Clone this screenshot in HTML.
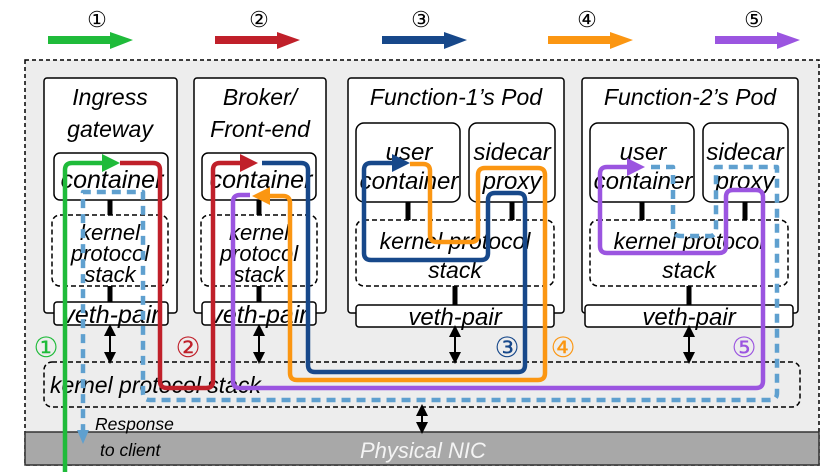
<!DOCTYPE html>
<html><head><meta charset="utf-8"><style>
html,body{margin:0;padding:0;background:#fff;}
svg{display:block;}
text{font-family:"Liberation Sans",sans-serif;font-style:italic;}
</style></head><body>
<svg width="832" height="476" viewBox="0 0 832 476" xmlns="http://www.w3.org/2000/svg">
<defs>
<marker id="mb" markerWidth="6" markerHeight="6" refX="3" refY="3" orient="auto"><path d="M0,0 L6,3 L0,6z" fill="#000"/></marker>
<marker id="mbs" markerWidth="6" markerHeight="6" refX="3" refY="3" orient="auto-start-reverse"><path d="M0,0 L6,3 L0,6z" fill="#000"/></marker>
</defs>
<g font-size="22" text-anchor="middle">
<text x="97" y="27" style="font-style:normal">①</text>
<text x="259" y="27" style="font-style:normal">②</text>
<text x="421" y="27" style="font-style:normal">③</text>
<text x="587" y="27" style="font-style:normal">④</text>
<text x="754" y="27" style="font-style:normal">⑤</text>
</g>
<g>
<path d="M48,36 H110 V32 L133,40 L110,49 V44 H48z" fill="#1fbb3a"/>
<path d="M215,36 H277 V32 L300,40 L277,49 V44 H215z" fill="#c0202a"/>
<path d="M382,36 H444 V32 L467,40 L444,49 V44 H382z" fill="#17488a"/>
<path d="M548,36 H610 V32 L633,40 L610,49 V44 H548z" fill="#fb9612"/>
<path d="M715,36 H777 V32 L800,40 L777,49 V44 H715z" fill="#9b55e0"/>
</g>
<rect x="25" y="60" width="794" height="405" fill="#ededed" stroke="#000" stroke-width="1.5" stroke-dasharray="4,3"/>
<rect x="25" y="432" width="794" height="33" fill="#a8a8a8" stroke="#333" stroke-width="1.5"/>
<text x="360" y="458" font-size="22" fill="#f4f4f4">Physical NIC</text>
<rect x="44" y="362" width="756" height="45" rx="8" fill="none" stroke="#000" stroke-width="1.5" stroke-dasharray="5,3"/>
<text x="50" y="393" font-size="23">kernel protocol stack</text>
<line x1="422" y1="410" x2="422" y2="428" stroke="#000" stroke-width="2" marker-start="url(#mbs)" marker-end="url(#mb)"/>
<g stroke="#000" stroke-width="1.5" fill="#fff">
<rect x="44" y="78" width="133" height="235" rx="3"/>
<rect x="194" y="78" width="132" height="235" rx="3"/>
<rect x="348" y="78" width="216" height="235" rx="3"/>
<rect x="582" y="78" width="216" height="235" rx="3"/>
<rect x="54" y="153" width="114" height="47" rx="6"/>
<rect x="202" y="153" width="114" height="47" rx="6"/>
<rect x="356" y="123" width="104" height="79" rx="8"/>
<rect x="469" y="123" width="86" height="79" rx="8"/>
<rect x="590" y="123" width="104" height="79" rx="8"/>
<rect x="703" y="123" width="85" height="79" rx="8"/>
</g>
<g stroke="#000" stroke-width="1.5" fill="none" stroke-dasharray="5,3">
<rect x="52" y="215" width="116" height="71" rx="8"/>
<rect x="201" y="215" width="116" height="71" rx="8"/>
<rect x="356" y="220" width="198" height="66" rx="8"/>
<rect x="590" y="220" width="198" height="66" rx="8"/>
</g>
<g stroke="#000" stroke-width="1.5" fill="#fff">
<rect x="54" y="302" width="114" height="23" rx="3"/>
<rect x="202" y="302" width="114" height="23" rx="3"/>
<rect x="356" y="305" width="198" height="22" rx="3"/>
<rect x="585" y="305" width="208" height="22" rx="3"/>
</g>
<g stroke="#000" stroke-width="5">
<line x1="110" y1="200" x2="110" y2="215"/><line x1="110" y1="286" x2="110" y2="302"/>
<line x1="259" y1="200" x2="259" y2="215"/><line x1="259" y1="286" x2="259" y2="302"/>
<line x1="408" y1="202" x2="408" y2="220"/><line x1="512" y1="202" x2="512" y2="220"/><line x1="455" y1="286" x2="455" y2="305"/>
<line x1="642" y1="202" x2="642" y2="220"/><line x1="745" y1="202" x2="745" y2="220"/><line x1="689" y1="286" x2="689" y2="305"/>
</g>
<g stroke="#000" stroke-width="2">
<line x1="110" y1="330" x2="110" y2="358" marker-start="url(#mbs)" marker-end="url(#mb)"/>
<line x1="259" y1="330" x2="259" y2="358" marker-start="url(#mbs)" marker-end="url(#mb)"/>
<line x1="455" y1="331" x2="455" y2="358" marker-start="url(#mbs)" marker-end="url(#mb)"/>
<line x1="689" y1="331" x2="689" y2="358" marker-start="url(#mbs)" marker-end="url(#mb)"/>
</g>
<g font-size="23" text-anchor="middle">
<text x="110" y="105">Ingress</text><text x="110" y="137">gateway</text>
<text x="260" y="105">Broker/</text><text x="260" y="137">Front-end</text>
<text x="456" y="105">Function-1’s Pod</text>
<text x="690" y="105">Function-2’s Pod</text>
</g>
<g text-anchor="middle">
<g font-size="25"><text x="112" y="188">container</text><text x="261" y="188">container</text></g>
<g font-size="24">
<text x="409" y="160">user</text><text x="409" y="189">container</text>
<text x="512" y="160">sidecar</text><text x="512" y="189">proxy</text>
<text x="643" y="160">user</text><text x="643" y="189">container</text>
<text x="745" y="160">sidecar</text><text x="745" y="189">proxy</text>
</g>
<g font-size="22">
<text x="110" y="240">kernel</text><text x="110" y="261">protocol</text><text x="110" y="282">stack</text>
<text x="259" y="240">kernel</text><text x="259" y="261">protocol</text><text x="259" y="282">stack</text>
</g>
<g font-size="23">
<text x="455" y="249">kernel protocol</text><text x="455" y="278">stack</text>
<text x="689" y="249">kernel protocol</text><text x="689" y="278">stack</text>
</g>
<g font-size="25"><text x="111" y="323">veth-pair</text><text x="259" y="323">veth-pair</text></g>
<g font-size="24"><text x="455" y="325">veth-pair</text><text x="689" y="325">veth-pair</text></g>
</g>
<g fill="none" stroke-width="4.5" stroke-linejoin="round">
<path d="M651,167 H673 V228 Q673,236 681,236 H710 Q716,236 716,228 V167 H777 V393 Q777,400 770,400 H150 Q143,400 143,393 V192 H83 V432" stroke="#5fa0cf" stroke-dasharray="9,6"/>
<path d="M65,472 V170 Q65,163 72,163 H104" stroke="#1fbb3a"/>
<path d="M120,163 H153 Q160,163 160,170 V381 Q160,388 167,388 H206 Q213,388 213,381 V170 Q213,163 220,163 H244" stroke="#c0202a"/>
<path d="M262,163 H301 Q308,163 308,170 V365 Q308,372 315,372 H518 Q525,372 525,365 V200 Q525,193 518,193 H495 Q488,193 488,200 V253 Q488,260 481,260 H371 Q364,260 364,253 V170 Q364,163 371,163 H396" stroke="#17488a"/>
<path d="M410,164 H423 Q430,164 430,171 V235 Q430,242 437,242 H471 Q478,242 478,235 V175 Q478,168 485,168 H538 Q545,168 545,175 V373 Q545,380 538,380 H297 Q290,380 290,373 V203 Q290,196 283,196 H266" stroke="#fb9612"/>
<path d="M250,195 H240 Q233,195 233,202 V381 Q233,388 240,388 H756 Q763,388 763,381 V197 Q763,190 756,190 H733 Q726,190 726,197 V246 Q726,253 719,253 H607 Q600,253 600,246 V174 Q600,167 607,167 H631" stroke="#9b55e0"/>
</g>
<g>
<path d="M102,154 L120,163 L102,172z" fill="#1fbb3a"/>
<path d="M240,154 L258,163 L240,172z" fill="#c0202a"/>
<path d="M392,154 L410,163 L392,172z" fill="#17488a"/>
<path d="M270,187 L252,196 L270,205z" fill="#fb9612"/>
<path d="M627,158 L645,167 L627,176z" fill="#9b55e0"/>
<path d="M77,430 L83,444 L89,430z" fill="#5fa0cf"/>
</g>
<text x="95" y="430" font-size="17.5">Response</text>
<text x="100" y="456" font-size="17.5">to client</text>
<g font-size="28" text-anchor="middle">
<text x="46" y="357" fill="#1fbb3a" style="font-style:normal">①</text>
<text x="188" y="357" fill="#c0202a" style="font-style:normal">②</text>
<text x="507" y="357" fill="#17488a" style="font-style:normal">③</text>
<text x="563" y="357" fill="#fb9612" style="font-style:normal">④</text>
<text x="744" y="357" fill="#9b55e0" style="font-style:normal">⑤</text>
</g>
</svg>
</body></html>
